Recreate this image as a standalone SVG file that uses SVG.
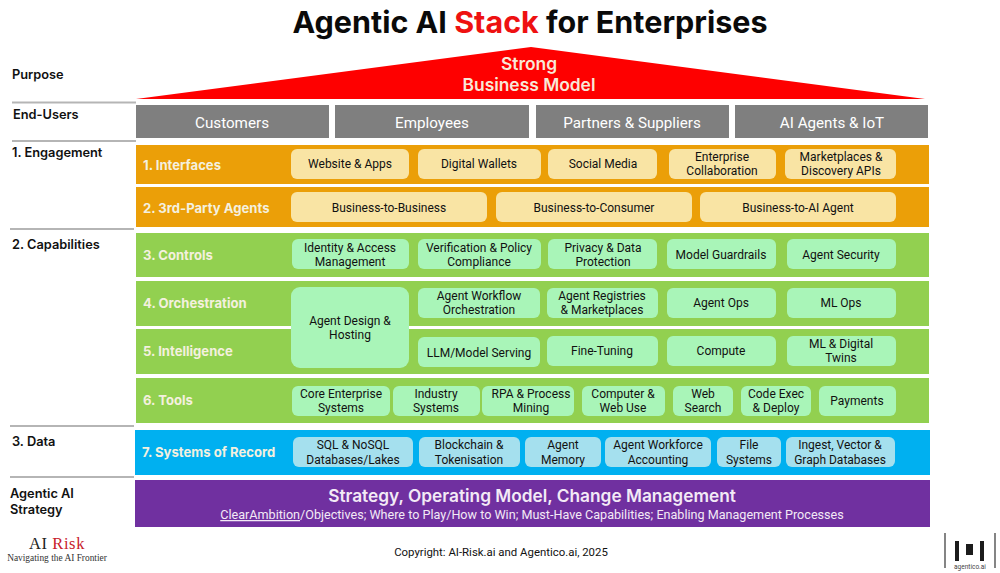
<svg xmlns="http://www.w3.org/2000/svg" width="1000" height="573" viewBox="0 0 1000 573">
<style>
text{font-family:Roboto,"Liberation Sans",sans-serif}
.head{font-family:Inter,"Liberation Sans",sans-serif}
.side{font-family:Inter,"Liberation Sans",sans-serif;font-size:12.8px;font-weight:600;fill:#111}
.band{font-family:Inter,"Liberation Sans",sans-serif;font-size:13.1px;font-weight:700;fill:#f4f0df}
.user{font-size:15.2px;font-weight:400;fill:#fff;text-anchor:middle}
.chip{font-size:12px;font-weight:400;fill:#111;text-anchor:middle}
.rule{stroke:#b5b5b5;stroke-width:2}
.or{fill:#eb9f08}.gr{fill:#92d050}.bl{fill:#00b0f0}
.c1{fill:#f9e4a4}.c2{fill:#a9f5b8}.c3{fill:#a5e0ee}
</style>
<g id="title"><text class="head" x="530" y="33" text-anchor="middle" font-size="30.5" font-weight="700" fill="#0a0a0a">Agentic AI <tspan fill="#ee1111">Stack</tspan> for Enterprises</text></g>
<g id="rules">
<line class="rule" x1="12" y1="102.5" x2="136" y2="102.5"/><line class="rule" x1="12" y1="141" x2="136" y2="141"/><line class="rule" x1="10" y1="229" x2="134" y2="229"/><line class="rule" x1="10" y1="426" x2="134" y2="426"/><line class="rule" x1="10" y1="477" x2="134" y2="477"/>
</g>
<g id="side-labels">
<text class="side" x="12" y="79">Purpose</text><text class="side" x="13" y="119">End-Users</text><text class="side" x="12" y="157">1. Engagement</text><text class="side" x="12" y="249">2. Capabilities</text><text class="side" x="12" y="446">3. Data</text><text class="side" x="10" y="498">Agentic AI</text><text class="side" x="10" y="514">Strategy</text>
</g>
<g id="purpose"><polygon points="136,99 531,47 925,99" fill="#fe0000"/><text class="head" x="529" y="70" text-anchor="middle" font-size="17.4" font-weight="600" fill="#f8e8d8">Strong</text><text class="head" x="529" y="91" text-anchor="middle" font-size="17.4" font-weight="600" fill="#f8e8d8">Business Model</text></g>
<g id="end-users">
<rect x="136" y="105" width="193" height="33" fill="#7f7f7f"/><text class="user" x="232" y="128">Customers</text>
<rect x="335" y="105" width="194" height="33" fill="#7f7f7f"/><text class="user" x="432" y="128">Employees</text>
<rect x="536" y="105" width="193" height="33" fill="#7f7f7f"/><text class="user" x="632" y="128">Partners &amp; Suppliers</text>
<rect x="735" y="105" width="193" height="33" fill="#7f7f7f"/><text class="user" x="832" y="128">AI Agents &amp; IoT</text>
</g>
<g id="interfaces"><rect class="or" x="136" y="145" width="793" height="39"/><text class="band" x="143" y="170">1. Interfaces</text>
<rect class="c1" x="291" y="149" width="118" height="30" rx="6"/><text class="chip" x="350" y="168">Website &amp; Apps</text>
<rect class="c1" x="418" y="149" width="123" height="30" rx="6"/><text class="chip" x="479" y="168">Digital Wallets</text>
<rect class="c1" x="548" y="149" width="109" height="30" rx="6"/><text class="chip" x="603" y="168">Social Media</text>
<rect class="c1" x="669" y="149" width="107" height="30" rx="6"/><text class="chip" x="722" y="161">Enterprise</text><text class="chip" x="722" y="175">Collaboration</text>
<rect class="c1" x="785" y="149" width="111" height="30" rx="6"/><text class="chip" x="841" y="161">Marketplaces &amp;</text><text class="chip" x="841" y="175">Discovery APIs</text></g>
<g id="third-party"><rect class="or" x="136" y="187" width="793" height="40"/><text class="band" x="143" y="213">2. 3rd-Party Agents</text>
<rect class="c1" x="291" y="192" width="196" height="30" rx="6"/><text class="chip" x="389" y="212">Business-to-Business</text>
<rect class="c1" x="496" y="192" width="196" height="30" rx="6"/><text class="chip" x="594" y="212">Business-to-Consumer</text>
<rect class="c1" x="700" y="192" width="196" height="30" rx="6"/><text class="chip" x="798" y="212">Business-to-AI Agent</text></g>
<g id="controls"><rect class="gr" x="136" y="233" width="793" height="44"/><text class="band" x="143" y="260">3. Controls</text>
<rect class="c2" x="292" y="239" width="117" height="30" rx="6"/><text class="chip" x="350" y="252">Identity &amp; Access</text><text class="chip" x="350" y="266">Management</text>
<rect class="c2" x="418" y="239" width="123" height="30" rx="6"/><text class="chip" x="479" y="252">Verification &amp; Policy</text><text class="chip" x="479" y="266">Compliance</text>
<rect class="c2" x="548" y="239" width="109" height="30" rx="6"/><text class="chip" x="603" y="252">Privacy &amp; Data</text><text class="chip" x="603" y="266">Protection</text>
<rect class="c2" x="667" y="239" width="109" height="30" rx="6"/><text class="chip" x="721" y="259">Model Guardrails</text>
<rect class="c2" x="787" y="239" width="109" height="30" rx="6"/><text class="chip" x="841" y="259">Agent Security</text></g>
<g id="orchestration"><rect class="gr" x="136" y="281" width="793" height="45"/><text class="band" x="143" y="308">4. Orchestration</text>
<rect class="c2" x="418" y="288" width="122" height="30" rx="6"/><text class="chip" x="479" y="300">Agent Workflow</text><text class="chip" x="479" y="314">Orchestration</text>
<rect class="c2" x="547" y="288" width="111" height="30" rx="6"/><text class="chip" x="602" y="300">Agent Registries</text><text class="chip" x="602" y="314">&amp; Marketplaces</text>
<rect class="c2" x="667" y="288" width="109" height="30" rx="6"/><text class="chip" x="721" y="307">Agent Ops</text>
<rect class="c2" x="787" y="288" width="109" height="30" rx="6"/><text class="chip" x="841" y="307">ML Ops</text></g>
<g id="intelligence"><rect class="gr" x="136" y="329" width="793" height="45"/><text class="band" x="143" y="356">5. Intelligence</text>
<rect class="c2" x="418" y="337" width="122" height="30" rx="6"/><text class="chip" x="479" y="357">LLM/Model Serving</text>
<rect class="c2" x="547" y="336" width="111" height="30" rx="6"/><text class="chip" x="602" y="355">Fine-Tuning</text>
<rect class="c2" x="667" y="336" width="109" height="30" rx="6"/><text class="chip" x="721" y="355">Compute</text>
<rect class="c2" x="787" y="336" width="109" height="30" rx="6"/><text class="chip" x="841" y="348">ML &amp; Digital</text><text class="chip" x="841" y="362">Twins</text></g>
<g id="agent-design"><rect class="c2" x="291" y="287" width="118" height="81" rx="9"/><text class="chip" x="350" y="325">Agent Design &amp;</text><text class="chip" x="350" y="339">Hosting</text></g>
<g id="tools"><rect class="gr" x="136" y="378" width="793" height="45"/><text class="band" x="143" y="405">6. Tools</text>
<rect class="c2" x="292" y="386" width="98" height="30" rx="6"/><text class="chip" x="341" y="398">Core Enterprise</text><text class="chip" x="341" y="412">Systems</text>
<rect class="c2" x="393" y="386" width="87" height="30" rx="6"/><text class="chip" x="436" y="398">Industry</text><text class="chip" x="436" y="412">Systems</text>
<rect class="c2" x="482" y="386" width="92" height="30" rx="6"/><text class="chip" x="531" y="398">RPA &amp; Process</text><text class="chip" x="531" y="412">Mining</text>
<rect class="c2" x="582" y="386" width="83" height="30" rx="6"/><text class="chip" x="623" y="398">Computer &amp;</text><text class="chip" x="623" y="412">Web Use</text>
<rect class="c2" x="673" y="386" width="60" height="30" rx="6"/><text class="chip" x="703" y="398">Web</text><text class="chip" x="703" y="412">Search</text>
<rect class="c2" x="741" y="386" width="70" height="30" rx="6"/><text class="chip" x="776" y="398">Code Exec</text><text class="chip" x="776" y="412">&amp; Deploy</text>
<rect class="c2" x="819" y="386" width="77" height="30" rx="6"/><text class="chip" x="857" y="405">Payments</text></g>
<g id="systems"><rect class="bl" x="135" y="430" width="795" height="45"/><text class="band" x="142" y="457">7. Systems of Record</text>
<rect class="c3" x="293" y="437" width="120" height="30" rx="6"/><text class="chip" x="353" y="449">SQL &amp; NoSQL</text><text class="chip" x="353" y="464">Databases/Lakes</text>
<rect class="c3" x="419" y="437" width="101" height="30" rx="6"/><text class="chip" x="469" y="449">Blockchain &amp;</text><text class="chip" x="469" y="464">Tokenisation</text>
<rect class="c3" x="525" y="437" width="76" height="30" rx="6"/><text class="chip" x="563" y="449">Agent</text><text class="chip" x="563" y="464">Memory</text>
<rect class="c3" x="605" y="437" width="106" height="30" rx="6"/><text class="chip" x="658" y="449">Agent Workforce</text><text class="chip" x="658" y="464">Accounting</text>
<rect class="c3" x="717" y="437" width="64" height="30" rx="6"/><text class="chip" x="749" y="449">File</text><text class="chip" x="749" y="464">Systems</text>
<rect class="c3" x="786" y="437" width="109" height="30" rx="6"/><text class="chip" x="840" y="449">Ingest, Vector &amp;</text><text class="chip" x="840" y="464">Graph Databases</text></g>
<g id="strategy"><rect x="135" y="480" width="795" height="47" fill="#7030a0"/><text class="head" x="532" y="502" text-anchor="middle" font-size="17.3" font-weight="600" fill="#f3eaf6">Strategy, Operating Model, Change Management</text><text x="532" y="519" text-anchor="middle" font-size="12.6" font-weight="400" fill="#f3eaf6"><tspan text-decoration="underline">ClearAmbition</tspan>/Objectives; Where to Play/How to Win; Must-Have Capabilities; Enabling Management Processes</text></g>
<g id="footer">
<text x="57" y="549" text-anchor="middle" font-size="16.5" style="font-family:'Liberation Serif',serif;letter-spacing:.6px" fill="#222">AI <tspan fill="#c8202a">Risk</tspan></text>
<text x="57" y="561" text-anchor="middle" font-size="9.4" style="font-family:'Liberation Serif',serif" fill="#333">Navigating the AI Frontier</text>
<text x="501" y="556" text-anchor="middle" font-size="11.4" font-weight="400" fill="#111">Copyright: AI-Risk.ai and Agentico.ai, 2025</text>
</g>
<g id="logo" fill="#1c1c1c">
<path d="M945 533 V568" stroke="#333" stroke-width="1.2" fill="none"/><path d="M995 533 V568" stroke="#333" stroke-width="1.2" fill="none"/>
<rect x="955" y="541" width="4" height="20"/><rect x="966" y="544" width="7" height="11"/><rect x="980" y="541" width="4" height="20"/>
<text x="970" y="569" text-anchor="middle" font-size="6.5" fill="#444">agentico.ai</text>
</g>
</svg>
